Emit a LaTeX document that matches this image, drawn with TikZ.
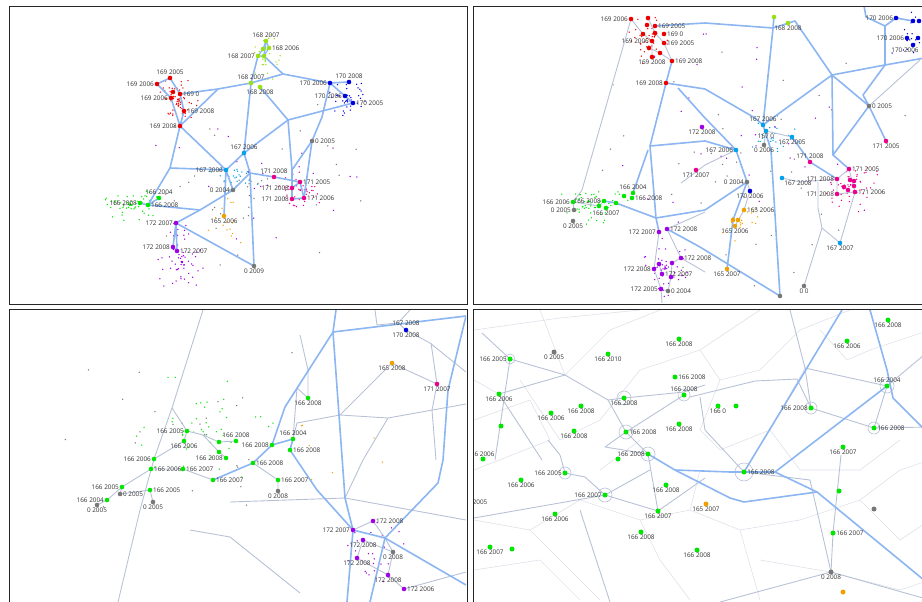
\documentclass[tikz,border=0pt]{standalone}
\usepackage{fontspec}
\setmainfont{Open Sans}
\usetikzlibrary{positioning}
\definecolor{edgecol}{RGB}{140,182,242}
\definecolor{meshcol}{RGB}{184,194,214}
\definecolor{faintcol}{RGB}{222,225,232}
\definecolor{c169}{RGB}{235,0,0}
\definecolor{c168}{RGB}{150,225,20}
\definecolor{c170}{RGB}{0,0,220}
\definecolor{c167}{RGB}{0,160,235}
\definecolor{c171}{RGB}{235,0,140}
\definecolor{c166}{RGB}{0,230,0}
\definecolor{c172}{RGB}{160,0,230}
\definecolor{c165}{RGB}{240,160,0}
\definecolor{c0}{RGB}{120,120,120}
\tikzset{
  frame/.style = {draw=black!85, line width=1pt},
  dot/.style   = {circle, inner sep=0pt, minimum size=4.6pt, draw=none},
  lab/.style   = {font=\fontsize{6.4}{7}\selectfont, text=black!80, inner sep=0.4pt},
  link/.style  = {draw=edgecol, line width=1.6pt, line join=round},
  mesh/.style  = {draw=meshcol, line width=0.9pt, line join=round},
  faint/.style = {draw=faintcol, line width=0.6pt},
}
% labelled point: name, position, colour, text, side
\newcommand\spot[5]{\node[dot, fill=#3] (#1) at (#2) {};
  \node[lab, #5=0pt of #1] (#1-t) {#4};}
\newcommand\bare[3]{\node[dot, fill=#3] (#1) at (#2) {};}
% cloud of tiny points: colour, cx, cy, rx, ry, count
\newcommand\cloud[6]{\foreach \k in {1,...,#6}{%
  \pgfmathsetmacro\cang{360*rnd}\pgfmathsetmacro\crad{rnd}%
  \fill[#1] ({#2+#4*\crad*cos(\cang)},{#3+#5*\crad*sin(\cang)}) circle (0.75pt);}}

\begin{document}
\begin{tikzpicture}[x=1pt, y=-1pt]
  \useasboundingbox (0,0) rectangle (922,602);
  \pgfmathsetseed{11}

  % ---------------- top left
  \begin{scope}
    \clip (10,8) rectangle (466,303);
    \cloud{c169}{178}{100}{24}{24}{60}
    \cloud{c168}{265}{60}{16}{28}{30}
    \cloud{c170}{350}{100}{24}{20}{40}
    \cloud{c171}{300}{190}{28}{22}{40}
    \cloud{c166}{130}{205}{32}{16}{60}
    \cloud{c172}{182}{262}{26}{34}{60}
    \cloud{c165}{228}{222}{22}{28}{15}
    \cloud{c167}{235}{178}{28}{16}{25}
    \cloud{c0}{250}{180}{120}{100}{40}
    \cloud{c172}{250}{170}{110}{90}{25}

    \draw[link] (180,94) -- (218,89) -- (251,83) -- (283,74) -- (330,83) -- (349,82);
    \draw[link] (283,74) -- (264,56) -- (266,41);
    \draw[link, line width=1.2pt] (266,41) -- (269,48) -- (264,56) -- (258,56) -- (263,49) -- (266,41);
    \draw[link] (258,56) -- (251,83) -- (244,153);
    \draw[link] (218,89) -- (180,126) -- (171,98) -- (157,84) -- (170,78) -- (180,94) -- (184,111) -- (180,126);
    \draw[link] (260,87) -- (288,120) -- (353,103) -- (345,96) -- (330,83);
    \draw[link] (288,120) -- (292,170) -- (292,188);
    \draw[link] (288,120) -- (244,153);
    \draw[link] (330,83) -- (322,117) -- (312,141) -- (292,170);
    \draw[link] (312,141) -- (304,198);
    \draw[link] (180,126) -- (170,168) -- (226,170) -- (244,153);
    \draw[link] (180,126) -- (226,170);
    \draw[link] (170,168) -- (148,205) -- (200,210) -- (233,190) -- (226,170) -- (224,216);
    \draw[link] (200,210) -- (176,223) -- (173,247) -- (177,251) -- (176,223);
    \draw[link] (176,223) -- (254,266) -- (250,173) -- (233,190);
    \draw[link] (244,153) -- (250,173) -- (274,177) -- (300,182) -- (304,198) -- (292,199) -- (292,188) -- (300,182);
    \draw[link] (159,198) -- (148,205) -- (140,203);

    \spot{a168a}{266,41}{c168}{168 2007}{above}
    \spot{a168b}{269,48}{c168}{168 2006}{right}
    \bare{a168c}{263,49}{c168}
    \spot{a168d}{258,56}{c168}{168 2007}{left}
    \bare{a168e}{264,56}{c168}
    \spot{a168f}{251,83}{c168}{168 2007}{above}
    \spot{a168g}{260,87}{c168}{168 2008}{below}
    \spot{a170a}{349,82}{c170}{170 2008}{above}
    \spot{a170b}{330,83}{c170}{170 2006}{left}
    \spot{a170c}{345,96}{c170}{170 2006}{left}
    \spot{a170d}{353,103}{c170}{170 2005}{right}
    \spot{a169a}{170,78}{c169}{169 2005}{above}
    \spot{a169b}{157,84}{c169}{169 2006}{left}
    \bare{a169c}{173,92}{c169}
    \spot{a169d}{180,94}{c169}{169 0}{right}
    \spot{a169e}{171,98}{c169}{169 2006}{left}
    \spot{a169f}{184,111}{c169}{169 2008}{right}
    \spot{a169g}{180,126}{c169}{169 2008}{left}
    \spot{a0a}{312,141}{c0}{0 2005}{right}
    \spot{a167a}{244,153}{c167}{167 2006}{above}
    \spot{a167b}{226,170}{c167}{167 2006}{left}
    \spot{a0b}{233,190}{c0}{0 2004}{left}
    \spot{a165}{224,216}{c165}{165 2006}{below}
    \spot{a171a}{274,177}{c171}{171 2008}{above}
    \spot{a171b}{300,182}{c171}{171 2005}{right}
    \spot{a171c}{292,188}{c171}{171 2008}{left}
    \spot{a171d}{292,199}{c171}{171 2008}{left}
    \spot{a171e}{304,198}{c171}{171 2006}{right}
    \spot{a166a}{159,198}{c166}{166 2004}{above}
    \spot{a166b}{140,203}{c166}{166 2008}{left}
    \spot{a166c}{148,205}{c166}{166 2008}{right}
    \spot{a172a}{176,223}{c172}{172 2007}{left}
    \spot{a172b}{173,247}{c172}{172 2008}{left}
    \spot{a172c}{177,251}{c172}{172 2007}{right}
    \spot{a0c}{254,266}{c0}{0 2009}{below}
  \end{scope}
  \draw[frame] (9,7) rectangle (467,304);

  % ---------------- top right
  \begin{scope}
    \clip (474,8) rectangle (930,303);
    \cloud{c169}{652}{42}{30}{26}{45}
    \cloud{c172}{665}{268}{26}{30}{50}
    \cloud{c171}{850}{185}{36}{30}{45}
    \cloud{c166}{590}{205}{40}{20}{55}
    \cloud{c165}{740}{222}{20}{22}{20}
    \cloud{c167}{770}{140}{30}{20}{25}
    \cloud{c170}{910}{40}{20}{30}{20}
    \cloud{c0}{740}{160}{180}{130}{45}
    \cloud{c172}{760}{140}{150}{120}{30}

    \draw[mesh] (631,19) -- (582,190) -- (573,202);
    \draw[mesh] (573,202) -- (599,206) -- (604,201);
    \draw[mesh] (574,210) -- (573,202);
    \draw[mesh] (631,19) -- (643,34) -- (652,41) -- (652,57);
    \draw[mesh] (648,18) -- (655,33) -- (664,43) -- (672,61);
    \draw[mesh] (649,48) -- (660,53) -- (672,61);
    \draw[mesh] (800,182) -- (837,179) -- (837,194) -- (855,192) -- (849,169) -- (837,179);
    \draw[mesh] (782,178) -- (800,182);
    \draw[mesh] (818,182) -- (818,208) -- (822,228) -- (840,243) -- (855,192);
    \draw[mesh] (822,228) -- (804,286);
    \draw[mesh] (920,60) -- (869,106);
    \draw[mesh] (659,232) -- (654,269) -- (661,289) -- (668,291) -- (671,277) -- (672,263) -- (681,258) -- (705,272);
    \draw[mesh] (667,229) -- (681,258);
    \draw[mesh] (659,264) -- (662,274);
    \draw[mesh] (667,229) -- (705,212);
    \draw[mesh] (747,182) -- (750,191) -- (744,210) -- (735,226);
    \draw[mesh] (764,145) -- (766,131) -- (792,137);
    \draw[mesh] (661,289) -- (662,303);
    \draw[mesh] (681,183) -- (705,165) -- (736,150);

    \draw[link] (655,26) -- (705,23) -- (773,28) -- (774,17);
    \draw[link] (773,28) -- (795,21) -- (832,75) -- (885,65) -- (930,57);
    \draw[link] (885,65) -- (885,26) -- (896,18) -- (913,21);
    \draw[link] (885,26) -- (866,17) -- (863,0);
    \draw[link] (885,65) -- (863,95) -- (869,106) -- (832,75);
    \draw[link] (832,75) -- (833,155) -- (849,169);
    \draw[link] (832,75) -- (763,125);
    \draw[link] (773,28) -- (763,125) -- (771,150) -- (780,296);
    \draw[link] (666,83) -- (672,61);
    \draw[link] (666,83) -- (705,89) -- (755,118) -- (763,125);
    \draw[link] (666,83) -- (650,146) -- (656,218) -- (659,232);
    \draw[link] (678,88) -- (705,118) -- (736,150);
    \draw[link] (650,146) -- (705,141) -- (736,150);
    \draw[link] (633,193) -- (648,150);
    \draw[link] (604,201) -- (616,203) -- (656,218) -- (705,210) -- (747,182) -- (736,150);
    \draw[link] (667,229) -- (700,247) -- (780,296);
    \draw[link] (727,269) -- (733,220) -- (747,182);
    \draw[link] (869,106) -- (886,141);
    \draw[link] (869,106) -- (833,155);
    \draw[link] (792,137) -- (810,162) -- (837,179);

    \spot{b169a}{631,19}{c169}{169 2006}{left}
    \bare{b169b}{648,18}{c169}
    \bare{b169c}{647,25}{c169}
    \spot{b169d}{655,26}{c169}{169 2005}{right}
    \bare{b169e}{643,34}{c169}
    \bare{b169f}{655,33}{c169}
    \spot{b169g}{664,34}{c169}{169 0}{right}
    \spot{b169h}{652,41}{c169}{169 2006}{left}
    \spot{b169i}{664,43}{c169}{169 2005}{right}
    \bare{b169j}{649,48}{c169}
    \bare{b169k}{660,53}{c169}
    \spot{b169l}{652,57}{c169}{169 2008}{below}
    \spot{b169m}{672,61}{c169}{169 2008}{right}
    \spot{b169n}{666,83}{c169}{169 2008}{left}
    \bare{b168a}{774,17}{c168}
    \spot{b168b}{788,23}{c168}{168 2008}{below}
    \spot{b170a}{896,18}{c170}{170 2006}{left}
    \bare{b170b}{913,21}{c170}
    \bare{b170c}{919,21}{c170}
    \spot{b170d}{907,38}{c170}{170 2006}{left}
    \bare{b170e}{918,38}{c170}
    \bare{b170f}{913,45}{c170}
    \node[lab, below left=0pt and -8pt of b170f] (b170f-t) {170 2006};
    \spot{b0a}{869,106}{c0}{0 2005}{right}
    \spot{b171a}{886,141}{c171}{171 2005}{below}
    \spot{b172a}{702,127}{c172}{172 2008}{below}
    \spot{b167a}{763,125}{c167}{167 2006}{above}
    \spot{b167b}{766,131}{c167}{167 0}{below}
    \spot{b167c}{792,137}{c167}{167 2005}{below}
    \spot{b0b}{764,145}{c0}{0 2006}{below}
    \spot{b167d}{736,150}{c167}{167 2006}{left}
    \spot{b171b}{810,162}{c171}{171 2008}{above}
    \spot{b171c}{849,169}{c171}{171 2005}{right}
    \spot{b171d}{837,179}{c171}{171 2008}{left}
    \bare{b171e}{850,180}{c171}
    \bare{b171f}{854,181}{c171}
    \bare{b171g}{854,186}{c171}
    \bare{b171h}{844,187}{c171}
    \bare{b171i}{848,190}{c171}
    \spot{b171j}{837,194}{c171}{171 2008}{left}
    \spot{b171k}{855,192}{c171}{171 2006}{right}
    \spot{b171l}{696,170}{c171}{171 2007}{below}
    \spot{b0c}{747,182}{c0}{0 2004}{left}
    \spot{b167e}{782,178}{c167}{167 2008}{below right}
    \spot{b170g}{750,191}{c170}{170 2006}{below}
    \spot{b165a}{744,210}{c165}{165 2006}{right}
    \bare{b165b}{733,220}{c165}
    \bare{b165c}{738,220}{c165}
    \spot{b165d}{735,226}{c165}{165 2006}{below}
    \spot{b165e}{727,269}{c165}{165 2007}{below}
    \spot{b0d}{804,286}{c0}{0 0}{below}
    \spot{b167f}{840,243}{c167}{167 2007}{below}
    \bare{b0e}{780,296}{c0}
    \spot{b166a}{633,193}{c166}{166 2004}{above}
    \bare{b166b}{624,196}{c166}
    \spot{b166c}{632,198}{c166}{166 2008}{right}
    \bare{b166d}{616,203}{c166}
    \spot{b166e}{604,201}{c166}{166 2008}{left}
    \bare{b166f}{599,206}{c166}
    \spot{b166g}{606,208}{c166}{166 2007}{below}
    \spot{b166h}{573,202}{c166}{166 2006}{left}
    \spot{b0f}{574,210}{c0}{0 2005}{left}
    \spot{b0g}{573,221}{c0}{0 2005}{below}
    \spot{b172b}{659,232}{c172}{172 2007}{left}
    \spot{b172c}{667,229}{c172}{172 2008}{right}
    \spot{b172d}{654,269}{c172}{172 2008}{left}
    \bare{b172e}{659,264}{c172}
    \bare{b172f}{672,263}{c172}
    \spot{b172g}{681,258}{c172}{172 2008}{right}
    \spot{b172h}{662,274}{c172}{172 2007}{right}
    \bare{b172i}{671,277}{c172}
    \spot{b172j}{661,289}{c172}{172 2005}{left}
    \spot{b0h}{668,291}{c0}{0 2004}{right}
  \end{scope}
  \draw[frame] (473,7) rectangle (935,304);

  % ---------------- bottom left
  \begin{scope}
    \clip (10,310) rectangle (466,610);
    \cloud{c166}{200}{430}{75}{60}{45}
    \cloud{c172}{375}{555}{30}{40}{25}
    \cloud{c0}{200}{420}{170}{110}{25}
    \cloud{c165}{300}{470}{100}{60}{8}

    \draw[mesh] (203,310) -- (172,408) -- (154,459) -- (140,510) -- (118,602);
    \draw[mesh] (172,408) -- (187,431) -- (203,435) -- (219,442) -- (236,441);
    \draw[mesh] (187,431) -- (184,441) -- (154,459);
    \draw[mesh] (203,435) -- (219,452) -- (226,458);
    \draw[mesh] (308,398) -- (297,388) -- (293,439);
    \draw[mesh] (308,398) -- (308,370) -- (300,335);
    \draw[mesh] (375,310) -- (377,325) -- (398,323) -- (406,330) -- (430,343) -- (466,372);
    \draw[mesh] (398,323) -- (410,310);
    \draw[mesh] (392,363) -- (340,415) -- (297,423) -- (293,439);
    \draw[mesh] (340,415) -- (388,418) -- (466,404);
    \draw[mesh] (388,418) -- (363,460) -- (345,498);
    \draw[mesh] (392,363) -- (400,367) -- (437,384) -- (431,343);
    \draw[mesh] (437,384) -- (432,410) -- (436,460);
    \draw[mesh] (230,502) -- (345,498) -- (466,520);
    \draw[mesh] (190,530) -- (230,537) -- (300,593);
    \draw[mesh] (353,530) -- (373,521) -- (385,538);
    \draw[mesh] (363,540) -- (357,558) -- (388,575) -- (404,589) -- (466,572);
    \draw[mesh] (393,552) -- (385,538);
    \draw[mesh] (363,540) -- (393,552) -- (388,575);
    \draw[mesh] (253,463) -- (278,480) -- (278,491);
    \draw[mesh] (122,487) -- (107,500) -- (97,505);
    \draw[mesh] (122,487) -- (120,494) -- (150,490) -- (153,502);
    \draw[mesh] (151,469) -- (183,469) -- (213,480);
    \draw[mesh] (151,469) -- (122,487);

    \draw[link] (336,310) -- (333,332) -- (466,316);
    \draw[link] (333,332) -- (285,407) -- (272,445) -- (253,463) -- (213,480);
    \draw[link] (272,445) -- (293,439) -- (290,450);
    \draw[link] (333,332) -- (345,498) -- (353,530);
    \draw[link] (290,450) -- (317,490) -- (353,530) -- (347,602);
    \draw[link] (466,316) -- (448,390) -- (443,460) -- (438,483) -- (385,538) -- (370,602);
    \draw[link] (385,538) -- (466,585);
    \draw[link] (353,530) -- (385,538);

    \spot{c166a}{187,431}{c166}{166 2005}{left}
    \spot{c166b}{184,441}{c166}{166 2006}{below}
    \bare{c166c}{219,442}{c166}
    \spot{c166d}{236,441}{c166}{166 2008}{above}
    \spot{c166e}{154,459}{c166}{166 2006}{left}
    \bare{c166f}{219,452}{c166}
    \spot{c166g}{226,458}{c166}{166 2008}{left}
    \spot{c166h}{272,445}{c166}{166 2008}{left}
    \spot{c166i}{293,439}{c166}{166 2004}{above}
    \spot{c166j}{290,450}{c166}{166 2008}{right}
    \spot{c166k}{308,398}{c166}{166 2008}{below}
    \spot{c165}{392,363}{c165}{165 2008}{below}
    \spot{c170}{406,330}{c170}{170 2008}{below}
    \node[lab, above=1pt of c170] (c167-t) {167 2008};
    \spot{c171}{437,384}{c171}{171 2007}{below}
    \spot{c166l}{253,463}{c166}{166 2008}{right}
    \spot{c166m}{278,480}{c166}{166 2007}{right}
    \spot{c0a}{278,491}{c0}{0 2008}{below}
    \spot{c166n}{213,480}{c166}{166 2007}{right}
    \spot{c166o}{151,469}{c166}{166 2006}{right}
    \spot{c166p}{183,469}{c166}{166 2007}{right}
    \spot{c166q}{122,487}{c166}{166 2005}{left}
    \spot{c0b}{120,494}{c0}{0 2005}{right}
    \spot{c166r}{107,500}{c166}{166 2004}{left}
    \spot{c0c}{97,505}{c0}{0 2005}{below}
    \spot{c166s}{150,490}{c166}{166 2005}{right}
    \spot{c0d}{153,502}{c0}{0 2005}{below}
    \spot{c172a}{353,530}{c172}{172 2007}{left}
    \spot{c172b}{373,521}{c172}{172 2008}{right}
    \spot{c172c}{363,540}{c172}{172 2008}{below}
    \spot{c0e}{393,552}{c0}{0 2008}{below}
    \spot{c172d}{357,558}{c172}{172 2008}{below}
    \spot{c172e}{388,575}{c172}{172 2008}{below}
    \spot{c172f}{404,589}{c172}{172 2006}{right}
  \end{scope}
  \draw[frame] (9,309) rectangle (467,610);

  % ---------------- bottom right
  \begin{scope}[dot/.append style={minimum size=5pt}]
    \clip (474,310) rectangle (930,610);
    \draw[faint] (474,330) -- (560,318) -- (640,310);
    \draw[faint] (540,310) -- (565,375) -- (610,330) -- (660,310);
    \draw[faint] (520,380) -- (560,440) -- (600,420) -- (640,370) -- (700,350) -- (760,310);
    \draw[faint] (474,420) -- (530,400) -- (550,440) -- (474,470);
    \draw[faint] (700,350) -- (720,380) -- (760,370) -- (800,330) -- (850,310);
    \draw[faint] (720,380) -- (700,430) -- (720,450) -- (770,430) -- (805,368);
    \draw[faint] (770,430) -- (800,470) -- (860,470) -- (900,440);
    \draw[faint] (474,520) -- (530,530) -- (560,560) -- (600,600);
    \draw[faint] (530,530) -- (580,500) -- (640,520) -- (690,510) -- (740,530) -- (800,520);
    \draw[faint] (640,520) -- (660,560) -- (690,600);
    \draw[faint] (690,510) -- (700,470);
    \draw[faint] (740,530) -- (760,600);
    \draw[faint] (800,520) -- (860,500) -- (900,470) -- (930,460);
    \draw[faint] (860,500) -- (900,540) -- (930,520);
    \draw[faint] (474,570) -- (540,560) -- (580,600);
    \draw[faint] (760,560) -- (830,572) -- (900,590) -- (930,580);
    \draw[faint] (820,330) -- (847,360) -- (870,350) -- (930,330);
    \draw[faint] (600,470) -- (640,440);
    \draw[faint] (474,380) -- (499,394);

    \draw[mesh] (482,333) -- (510,359) -- (565,375) -- (608,400) -- (626,432);
    \draw[mesh] (499,394) -- (565,375);
    \draw[mesh] (499,394) -- (542,460);
    \draw[mesh] (510,359) -- (495,460);
    \draw[mesh] (608,400) -- (624,398) -- (684,392) -- (705,385);
    \draw[mesh] (626,432) -- (684,395);
    \draw[mesh] (626,432) -- (605,447) -- (648,454);
    \draw[mesh] (648,454) -- (626,432);
    \draw[mesh] (690,397) -- (755,381) -- (797,379) -- (811,408) -- (874,428) -- (930,427);
    \draw[mesh] (805,368) -- (887,386) -- (930,350);
    \draw[mesh] (811,408) -- (805,368) -- (790,310);
    \draw[mesh] (474,518) -- (605,495) -- (650,470);
    \draw[mesh] (565,473) -- (585,477) -- (605,495);
    \draw[mesh] (605,495) -- (658,511) -- (705,478);
    \draw[mesh] (648,454) -- (658,511);
    \draw[mesh] (565,473) -- (560,455) -- (548,440);
    \draw[mesh] (744,472) -- (810,480) -- (831,572);
    \draw[mesh] (833,533) -- (831,572);
    \draw[mesh] (841,455) -- (833,533);
    \draw[mesh] (720,602) -- (831,572) -- (930,600);
    \draw[mesh] (580,510) -- (610,602);
    \draw[mesh] (874,428) -- (887,386);
    \draw[mesh] (744,472) -- (705,430) -- (700,397);
    \draw[mesh, line width=0.6pt] (624,398) circle (7pt);
    \draw[mesh, line width=0.6pt] (626,432) circle (7pt);
    \draw[mesh, line width=0.6pt] (648,454) circle (7pt);
    \draw[mesh, line width=0.6pt] (684,395) circle (6pt);
    \draw[mesh, line width=0.6pt] (811,408) circle (6pt);
    \draw[mesh, line width=0.6pt] (874,428) circle (6pt);
    \draw[mesh, line width=0.6pt] (887,386) circle (7pt);
    \draw[mesh, line width=0.6pt] (744,472) circle (9pt);
    \draw[mesh, line width=0.6pt] (565,473) circle (6pt);
    \draw[mesh, line width=0.6pt] (605,495) circle (7pt);
    \draw[mesh, line width=0.6pt] (510,359) circle (5pt);

    \draw[link] (842,310) -- (744,472);
    \draw[link] (870,310) -- (887,370) -- (893,398) -- (930,435);
    \draw[link] (887,386) -- (775,472);
    \draw[link] (648,454) -- (675,470) -- (730,472) -- (744,472) -- (775,472) -- (817,492) -- (930,585);
    \draw[link] (675,470) -- (730,498) -- (744,502) -- (817,492);

    \spot{d01}{510,359}{c166}{166 2005}{left}
    \spot{d02}{554,352}{c0}{0 2005}{below}
    \spot{d03}{608,354}{c166}{166 2010}{below}
    \spot{d04}{679,339}{c166}{166 2008}{below}
    \spot{d05}{499,394}{c166}{166 2006}{below}
    \spot{d06}{675,377}{c166}{166 2008}{right}
    \spot{d07}{684,395}{c166}{166 2008}{above}
    \spot{d08}{624,398}{c166}{166 2008}{below}
    \spot{d09}{581,406}{c166}{166 2008}{below}
    \spot{d10}{551,413}{c166}{166 2006}{below}
    \bare{d11}{501,426}{c166}
    \spot{d12}{574,431}{c166}{166 2008}{below}
    \spot{d13}{626,432}{c166}{166 2008}{right}
    \spot{d14}{679,424}{c166}{166 2008}{below}
    \bare{d15}{483,459}{c166}
    \node[lab, above left=0pt and -14pt of d15] (d15-t) {166 2006};
    \spot{d16}{648,454}{c166}{166 2008}{left}
    \bare{d17}{618,459}{c166}
    \spot{d18}{888,320}{c166}{166 2008}{below}
    \spot{d19}{847,341}{c166}{166 2006}{below}
    \spot{d20}{887,386}{c166}{166 2004}{above}
    \spot{d21}{718,406}{c166}{166 0}{below}
    \bare{d22}{736,406}{c166}
    \spot{d23}{811,408}{c166}{166 2008}{left}
    \spot{d24}{874,428}{c166}{166 2008}{right}
    \spot{d25}{843,447}{c166}{166 2007}{below}
    \spot{d26}{565,473}{c166}{166 2005}{left}
    \spot{d27}{521,480}{c166}{166 2006}{below}
    \spot{d28}{744,472}{c166}{166 2008}{right}
    \spot{d29}{666,485}{c166}{166 2008}{below}
    \spot{d30}{605,495}{c166}{166 2007}{left}
    \spot{d31}{706,504}{c165}{165 2007}{below}
    \spot{d32}{658,511}{c166}{166 2007}{below}
    \spot{d33}{555,514}{c166}{166 2006}{below}
    \bare{d34}{839,491}{c166}
    \bare{d35}{874,509}{c0}
    \spot{d36}{641,532}{c166}{166 2008}{below}
    \spot{d37}{833,533}{c166}{166 2007}{right}
    \spot{d38}{490,547}{c166}{166 2007}{below}
    \bare{d39}{512,549}{c166}
    \spot{d40}{697,550}{c166}{166 2008}{below}
    \spot{d41}{831,572}{c0}{0 2008}{below}
    \bare{d42}{843,592}{c165}
    \node[lab, anchor=east] (d43-t) at (488,502) {166 2005};
  \end{scope}
  \draw[frame] (473,309) rectangle (935,610);
\end{tikzpicture}
\end{document}
